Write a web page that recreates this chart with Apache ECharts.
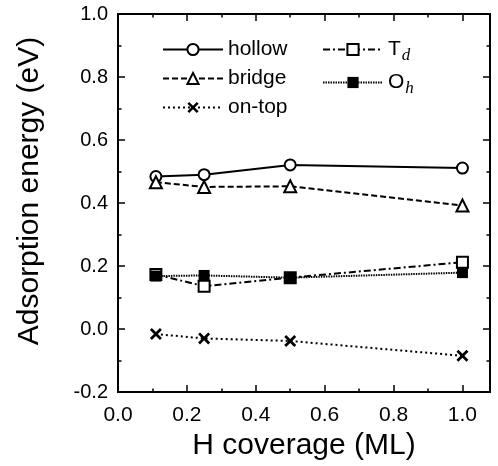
<!DOCTYPE html>
<html>
<head>
<meta charset="utf-8">
<script src="https://cdn.jsdelivr.net/npm/echarts@6/dist/echarts.min.js"></script>
<style>
  html, body { margin: 0; padding: 0; background: #fff; }
  #chart { width: 498px; height: 466px; }
</style>
</head>
<body>
<div id="chart"></div>
<script>
// H coverage (ML)
var coverage = [0.11, 0.25, 0.5, 1.0]
// adsorption energies (eV)
var hollow = [0.484, 0.490, 0.521, 0.511]
var bridge = [0.466, 0.451, 0.453, 0.392]
var onTop = [-0.016, -0.030, -0.038, -0.085]
var td = [0.173, 0.136, 0.163, 0.212]
var oh = [0.168, 0.170, 0.163, 0.179]

var xMajor = [0, 0.2, 0.4, 0.6, 0.8, 1.0]
var xMinor = [0.1, 0.3, 0.5, 0.7, 0.9]

var FONT = 'Liberation Sans'
var crossPath = 'path://M0,1.6L1.6,0L5,3.4L8.4,0L10,1.6L6.6,5L10,8.4L8.4,10L5,6.6L1.6,10L0,8.4L3.4,5Z'

function pairs (ys) {
  return coverage.map(function (x, i) { return [x, ys[i]] })
}

function xDeco (position, values, len, showLine, showLabel) {
  return {
    type: 'value',
    position: position,
    min: 0,
    max: 1.08,
    axisLine: { show: showLine, onZero: false, lineStyle: { color: '#000', width: 2 } },
    axisTick: { show: true, inside: true, length: len, customValues: values, lineStyle: { color: '#000', width: 1.5 } },
    axisLabel: {
      show: showLabel,
      customValues: values,
      margin: 13,
      color: '#000',
      fontFamily: FONT,
      fontSize: 21,
      formatter: function (v) { return v.toFixed(1) }
    },
    splitLine: { show: false }
  }
}

function yAxisOf (position, showLabel) {
  return {
    type: 'value',
    position: position,
    min: -0.2,
    max: 1.0,
    interval: 0.2,
    axisLine: { show: true, onZero: false, lineStyle: { color: '#000', width: 2 } },
    axisTick: { show: true, inside: true, length: 7, lineStyle: { color: '#000', width: 1.5 } },
    minorTick: { show: true, splitNumber: 2, length: 3.5, lineStyle: { color: '#000', width: 1.5 } },
    axisLabel: {
      show: showLabel,
      margin: 10,
      color: '#000',
      fontFamily: FONT,
      fontSize: 20,
      formatter: function (v) { return v.toFixed(1) }
    },
    splitLine: { show: false }
  }
}

var xBottom = xDeco('bottom', xMajor, 7, true, true)
xBottom.name = 'H coverage (ML)'
xBottom.nameLocation = 'middle'
xBottom.nameGap = 39
xBottom.nameMoveOverlap = false
xBottom.nameTextStyle = { color: '#000', fontFamily: FONT, fontSize: 30 }

var legendText = {
  color: '#000',
  fontFamily: FONT,
  fontSize: 21,
  lineHeight: 20,
  rich: {
    m: { fontFamily: FONT, fontSize: 21, color: '#000' },
    s: { fontFamily: 'Liberation Serif', fontStyle: 'italic', fontSize: 17, color: '#000', padding: [12, 0, 0, 1] }
  }
}

var chart = echarts.init(document.getElementById('chart'))
chart.setOption({
  animation: false,
  backgroundColor: '#fff',
  grid: { left: 118, right: 8, top: 14, bottom: 73 },
  // y axis title, placed by hand a little above the plot centre as in the original
  graphic: [{
    type: 'text',
    x: 30,
    y: 191,
    rotation: Math.PI / 2,
    style: {
      text: 'Adsorption energy (eV)',
      fill: '#000',
      font: '30px "Liberation Sans"',
      align: 'center',
      verticalAlign: 'middle'
    }
  }],
  xAxis: [
    xBottom,
    xDeco('bottom', xMinor, 3.5, false, false),
    xDeco('top', xMajor, 7, true, false),
    xDeco('top', xMinor, 3.5, false, false)
  ],
  yAxis: [yAxisOf('left', true), yAxisOf('right', false)],
  legend: [
    {
      data: ['hollow', 'bridge', 'on-top'],
      orient: 'vertical',
      left: 157,
      top: 34,
      itemWidth: 60,
      itemHeight: 14,
      itemGap: 8,
      textStyle: legendText
    },
    {
      data: ['Td', 'Oh'],
      orient: 'vertical',
      left: 317,
      top: 34,
      itemWidth: 60,
      itemHeight: 14,
      itemGap: 8,
      textStyle: legendText,
      formatter: function (name) {
        return '{m|' + name.charAt(0) + '}{s|' + name.charAt(1) + '}'
      }
    }
  ],
  series: [
    {
      name: 'hollow', type: 'line', data: pairs(hollow),
      symbol: 'circle', symbolSize: 11,
      lineStyle: { color: '#000', width: 2, type: 'solid' },
      itemStyle: { color: '#fff', borderColor: '#000', borderWidth: 2 }
    },
    {
      name: 'bridge', type: 'line', data: pairs(bridge),
      symbol: 'triangle', symbolSize: 12,
      lineStyle: { color: '#000', width: 2, type: [6, 3] },
      itemStyle: { color: '#fff', borderColor: '#000', borderWidth: 2 }
    },
    {
      name: 'on-top', type: 'line', data: pairs(onTop),
      symbol: crossPath, symbolSize: 12,
      lineStyle: { color: '#000', width: 2, type: [2, 3] },
      itemStyle: { color: '#000' }
    },
    {
      name: 'Td', type: 'line', data: pairs(td),
      symbol: 'rect', symbolSize: 11,
      lineStyle: { color: '#000', width: 2, type: [7, 3, 2, 3] },
      itemStyle: { color: '#fff', borderColor: '#000', borderWidth: 2 }
    },
    {
      name: 'Oh', type: 'line', data: pairs(oh),
      symbol: 'rect', symbolSize: 11,
      lineStyle: { color: '#000', width: 2, type: [1.5, 1] },
      itemStyle: { color: '#000' }
    }
  ]
})
</script>
</body>
</html>
